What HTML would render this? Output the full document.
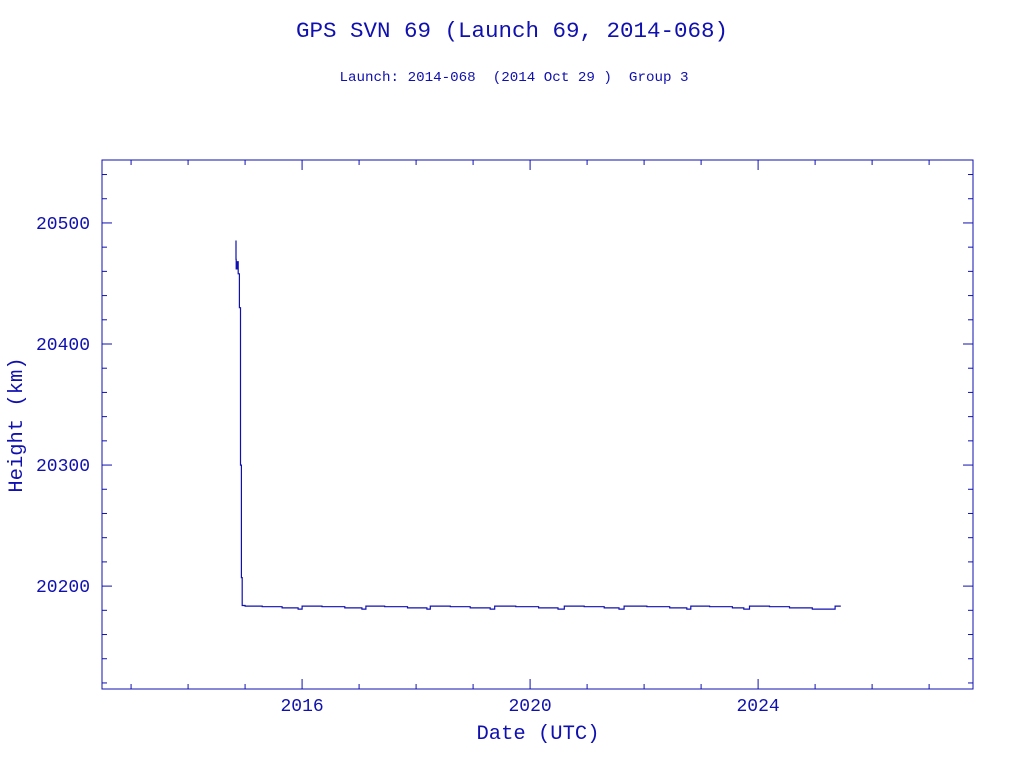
<!DOCTYPE html>
<html><head><meta charset="utf-8"><style>
body{margin:0;background:#fff;}
svg{display:block;font-family:"Liberation Mono",monospace;}
text{white-space:pre;}
</style></head><body>
<svg id="chart" width="1024" height="768">
<text x="512" y="37" text-anchor="middle" font-size="22.5" fill="#1010b0">GPS SVN 69 (Launch 69, 2014-068)</text>
<text x="514" y="81" text-anchor="middle" font-size="14.2" fill="#1010b0" xml:space="preserve">Launch: 2014-068  (2014 Oct 29 )  Group 3</text>
<rect x="102" y="160" width="871" height="529" fill="none" stroke="#1010b0" stroke-width="1"/>
<g id="ticks"></g>
<path id="series" fill="none" stroke="#1010b0" stroke-width="1.2"/>
<text x="538" y="739" text-anchor="middle" font-size="20.5" fill="#1010b0">Date (UTC)</text>
<text transform="translate(22,425) rotate(-90)" text-anchor="middle" font-size="20.5" fill="#1010b0">Height (km)</text>
</svg>
<script>
const dates=[2014.83,2014.84,2014.845,2014.86,2014.875,2014.88,2014.9,2014.92,2014.935,2014.95,
2015.0,2015.3,2015.65,2015.93,2016.0,2016.35,2016.75,2017.05,2017.12,2017.45,2017.85,2018.19,2018.25,2018.6,2018.95,2019.3,2019.38,2019.75,2020.15,2020.49,2020.6,2020.95,2021.3,2021.56,2021.65,2022.05,2022.45,2022.75,2022.82,2023.15,2023.55,2023.75,2023.85,2024.2,2024.55,2024.95,2025.35,2025.45];
const heights=[20485,20470,20462,20468,20468,20458,20430,20300,20207,20184,
20183.5,20183,20182,20181,20183.5,20183,20182,20181,20183.5,20183,20182,20181,20183.5,20183,20182,20181,20183.5,20183,20182,20181,20183.5,20183,20182,20181,20183.5,20183,20182,20181,20183.5,20183,20182,20181,20183.5,20183,20182,20181,20183.5,20183.5];
const yTickLabels=[20200,20300,20400,20500];
const xTickLabels=[2016,2020,2024];
const X0=102,X1=973,Y0=689,Y1=160;
const xmin=2012.49,xmax=2027.77,ymin=20115,ymax=20552;
const sx=v=>X0+(v-xmin)/(xmax-xmin)*(X1-X0);
const sy=v=>Y0-(v-ymin)/(ymax-ymin)*(Y0-Y1);
const NS="http://www.w3.org/2000/svg",C="#1010b0";
const g=document.getElementById('ticks');
function line(x1,y1,x2,y2,name){const l=document.createElementNS(NS,'line');
l.setAttribute('x1',x1);l.setAttribute('y1',y1);l.setAttribute('x2',x2);l.setAttribute('y2',y2);l.setAttribute('stroke',C);


g.appendChild(l);}
function text(x,y,s,anchor,name){const t=document.createElementNS(NS,'text');t.setAttribute('x',x);t.setAttribute('y',y);t.setAttribute('text-anchor',anchor);t.setAttribute('font-size','18');t.setAttribute('fill',C);t.textContent=s;


g.appendChild(t);}
for(let v=20120;v<=20540;v+=20){const y=sy(v),maj=v%100===0,L=maj?10:5;line(X0,y,X0+L,y,'y-tick');line(X1-L,y,X1,y,'y-tick');}
yTickLabels.forEach(v=>text(X0-12,sy(v)+6,String(v),'end','y-tick-label'));
for(let v=2013;v<=2027;v++){const x=sx(v),maj=v%4===0,L=maj?10:5;line(x,Y0,x,Y0-L,'x-tick');line(x,Y1,x,Y1+L,'x-tick');}
xTickLabels.forEach(v=>text(sx(v),711,String(v),'middle','x-tick-label'));
let d='M'+sx(dates[0]).toFixed(1)+','+sy(heights[0]).toFixed(1);
for(let i=1;i<dates.length;i++){d+=' H'+sx(dates[i]).toFixed(1)+' V'+sy(heights[i]).toFixed(1);}
document.getElementById('series').setAttribute('d',d);
</script>
</body></html>
